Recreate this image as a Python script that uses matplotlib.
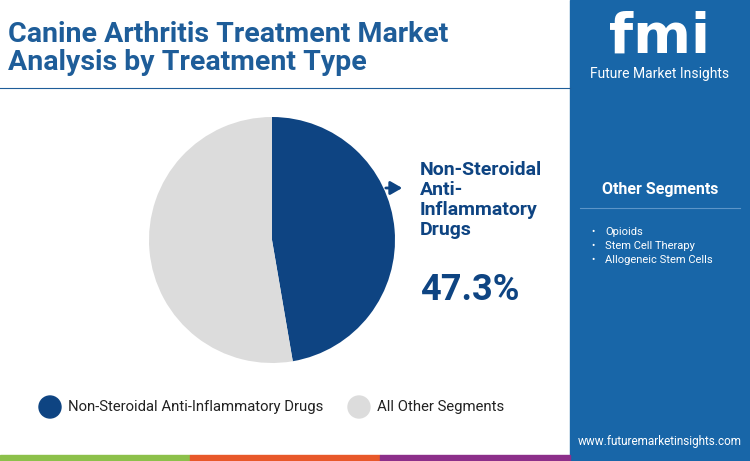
import matplotlib
matplotlib.use("Agg")
import matplotlib.pyplot as plt
from matplotlib.patches import Rectangle, Circle

labels = ["Non-Steroidal Anti-Inflammatory Drugs", "All Other Segments"]
values = [47.3, 52.7]
colors = ["#0e4482", "#dcdcdc"]
others = ["Opioids", "Stem Cell Therapy", "Allogeneic Stem Cells"]

W, H = 750, 461
fig = plt.figure(figsize=(W/100, H/100), dpi=100)
bg = fig.add_axes([0, 0, 1, 1]); bg.set_xlim(0, W); bg.set_ylim(H, 0); bg.axis("off")
F = "Roboto"
blue = "#1866a8"
bg.add_patch(Rectangle((570, 0), 180, H, color=blue))
for x0, c in [(0, "#8cc04a"), (190, "#e8582a"), (380, "#8c2f8a")]:
    bg.add_patch(Rectangle((x0, 455), 190, 6, color=c))
bg.plot([0, 570], [88, 88], color="#1e5d99", lw=0.8)
bg.text(8, 34, "Canine Arthritis Treatment Market", fontsize=20.5, fontweight="bold", color="#1e5d99", va="center", family=F)
bg.text(8, 63, "Analysis by Treatment Type", fontsize=20.5, fontweight="bold", color="#1e5d99", va="center", family=F)

# logo
bg.text(660, 38, "fmi", fontsize=40, fontweight="bold", color="white", ha="center", va="center", family="DejaVu Sans")
bg.text(660, 74, "Future Market Insights", fontsize=10, color="white", ha="center", va="center", family=F)
bg.text(660, 189, "Other Segments", fontsize=11.5, fontweight="bold", color="white", ha="center", va="center", family=F)
bg.plot([580, 740], [208, 208], color="#5c95c8", lw=0.8)
for i, t in enumerate(others):
    y = 232 + i*14
    bg.text(591, y, "•", fontsize=7, color="white", va="center", family=F)
    bg.text(605, y, t, fontsize=8, color="white", va="center", family=F)
bg.text(660, 441, "www.futuremarketinsights.com", fontsize=8.5, color="white", ha="center", va="center", family=F)

# annotation
bg.annotate("", xy=(405, 188), xytext=(383, 188), arrowprops=dict(arrowstyle="-|>,head_length=0.7,head_width=0.4", color="#0e4482", lw=2))
bg.text(420, 200, "Non-Steroidal\nAnti-\nInflammatory\nDrugs", fontsize=14, fontweight="bold", color="#0e4482", va="center", family=F, linespacing=1.15)
bg.text(420, 290, f"{values[0]}%", fontsize=26, fontweight="bold", color="#0e4482", va="center", family=F)

# pie
cx, cy, r = 272, 240, 123
pa = fig.add_axes([(cx-r)/W, 1-(cy+r)/H, 2*r/W, 2*r/H])
pa.pie(values, colors=colors, startangle=90, counterclock=False)
pa.set_xlim(-1, 1); pa.set_ylim(-1, 1)
pa.set_aspect("auto")

# legend
for x, c, t in [(50, colors[0], labels[0]), (359, colors[1], labels[1])]:
    bg.add_patch(Circle((x, 407), 11, color=c))
    bg.text(x+18, 407, t, fontsize=10.7, color="#222222", va="center", family=F)

fig.savefig("out.png", dpi=100)
